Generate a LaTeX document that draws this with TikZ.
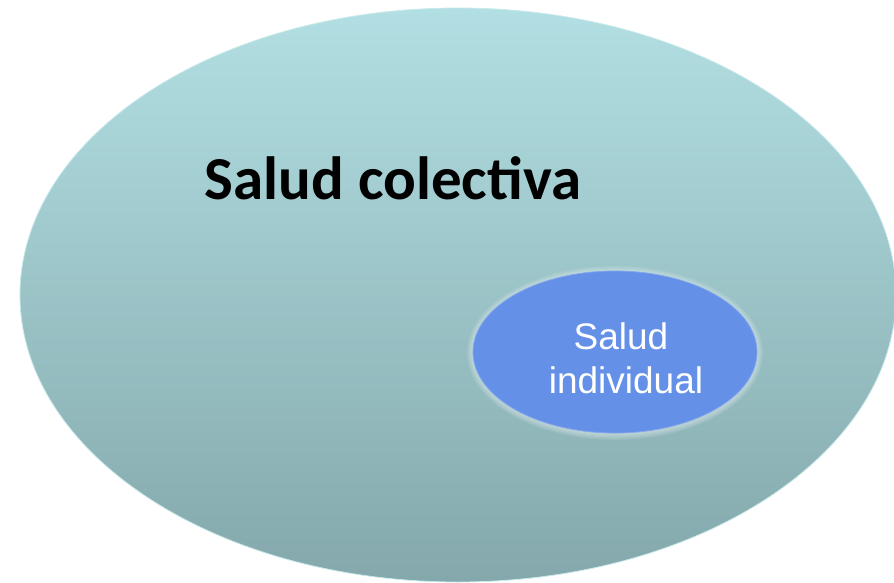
\documentclass[tikz,border=0pt]{standalone}
\usepackage{fontspec}
\setmainfont{Liberation Sans}
\newfontfamily\calibri{Carlito}
\usetikzlibrary{shapes.geometric}
\definecolor{tealtop}{RGB}{178,223,227}
\definecolor{tealbot}{RGB}{132,168,171}
\definecolor{blueind}{RGB}{100,144,232}

\begin{document}
\begin{tikzpicture}[x=1pt,y=-1pt,
        outer node/.style={ellipse,inner sep=0pt,minimum width=876pt,minimum height=574pt,
            top color=tealtop,bottom color=tealbot,draw=tealtop!70!white,line width=0.8pt},
        inner node/.style={ellipse,inner sep=0pt,minimum width=284pt,minimum height=162pt,
            fill=blueind,draw=blueind!80!white,line width=0.8pt},
        halo/.style={ellipse,inner sep=0pt,fill=white,opacity=0.09},
        big label/.style={font=\calibri\bfseries\fontsize{61}{73}\selectfont},
        small label/.style={align=center,text=white,font=\fontsize{37}{44}\selectfont}]

        \useasboundingbox (0,0) rectangle (894,582);

        % Define ellipses
        \node[outer node] (colectiva) at (458,295) {};
        \foreach \g in {1,...,5}
            \node[halo,minimum width=284pt+2.4*\g pt,minimum height=162pt+2.4*\g pt] at (615,353) {};
        \node[inner node] (individual) at (615,352) {};

        % Labels
        \node[big label] (colectiva text) at (393,178) {Salud colectiva};
        \node[small label] (individual text) at (621,358) {Salud\\ \hspace{10pt}individual};

\end{tikzpicture}
\end{document}
